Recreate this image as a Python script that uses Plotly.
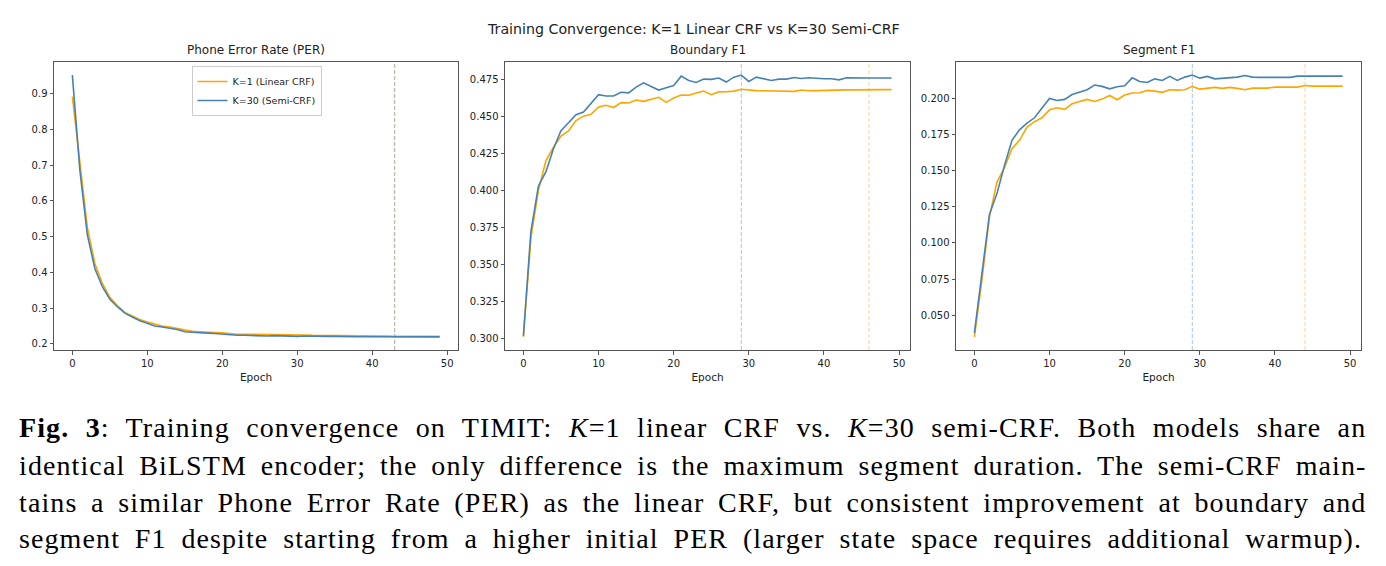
import plotly.graph_objects as go

W, H = 1386, 566

epochs = list(range(50))

per_k1 = [0.892, 0.705, 0.525, 0.425, 0.369, 0.330, 0.307, 0.288, 0.278, 0.268,
          0.261, 0.255, 0.250, 0.247, 0.243, 0.237, 0.235, 0.234, 0.234, 0.232,
          0.231, 0.228, 0.227, 0.227, 0.227, 0.226, 0.225, 0.226, 0.225, 0.225,
          0.225, 0.225, 0.224, 0.224, 0.223, 0.223, 0.223, 0.223, 0.223, 0.223,
          0.222, 0.222, 0.222, 0.221, 0.221, 0.221, 0.221, 0.221, 0.221, 0.221]
per_k30 = [0.952, 0.686, 0.505, 0.411, 0.360, 0.325, 0.304, 0.286, 0.275, 0.265,
           0.258, 0.250, 0.247, 0.244, 0.240, 0.234, 0.232, 0.231, 0.230, 0.229,
           0.227, 0.224, 0.224, 0.224, 0.223, 0.223, 0.222, 0.223, 0.222, 0.222,
           0.221, 0.222, 0.221, 0.221, 0.221, 0.221, 0.220, 0.221, 0.220, 0.220,
           0.220, 0.220, 0.220, 0.2195, 0.220, 0.2195, 0.2195, 0.2195, 0.2195, 0.2195]

bf1_k1 = [0.301, 0.368, 0.400, 0.420, 0.429, 0.4365, 0.440, 0.447, 0.450, 0.4513,
          0.4562, 0.4573, 0.4558, 0.4591, 0.4589, 0.4609, 0.4600, 0.4612, 0.4627, 0.4593,
          0.4622, 0.4642, 0.4641, 0.4656, 0.4669, 0.4645, 0.4664, 0.4665, 0.4669, 0.4681,
          0.4674, 0.4672, 0.4671, 0.4670, 0.4671, 0.4672, 0.4667, 0.4676, 0.4671, 0.4672,
          0.4674, 0.4673, 0.4676, 0.4677, 0.4677, 0.4678, 0.4682, 0.4681, 0.4679, 0.4679]
bf1_k30 = [0.3018, 0.3723, 0.4029, 0.4125, 0.4280, 0.4401, 0.4455, 0.4510, 0.4528, 0.4589,
           0.4645, 0.4636, 0.4636, 0.4661, 0.4657, 0.4696, 0.4725, 0.4700, 0.4676, 0.4691,
           0.4707, 0.4770, 0.4741, 0.4727, 0.4750, 0.4748, 0.4757, 0.4730, 0.4763, 0.4777,
           0.4734, 0.4763, 0.4752, 0.4741, 0.4750, 0.4750, 0.4761, 0.4754, 0.4759, 0.4754,
           0.4752, 0.4752, 0.4745, 0.4759, 0.4757, 0.4757, 0.4757, 0.4757, 0.4757, 0.4757]

sf1_k1 = [0.0350, 0.0742, 0.1179, 0.1420, 0.1519, 0.1650, 0.1708, 0.1800, 0.1837, 0.1864,
          0.1919, 0.1933, 0.1922, 0.1961, 0.1977, 0.1991, 0.1977, 0.1993, 0.2018, 0.1989,
          0.2021, 0.2035, 0.2037, 0.2053, 0.2048, 0.2040, 0.2058, 0.2055, 0.2058, 0.2081,
          0.2062, 0.2067, 0.2074, 0.2067, 0.2074, 0.2067, 0.2058, 0.2069, 0.2067, 0.2069,
          0.2076, 0.2074, 0.2076, 0.2076, 0.2087, 0.2083, 0.2081, 0.2083, 0.2083, 0.2083]
sf1_k30 = [0.0378, 0.0788, 0.1197, 0.1340, 0.1535, 0.1708, 0.1781, 0.1827, 0.1864, 0.1931,
           0.1998, 0.1984, 0.1991, 0.2025, 0.2041, 0.2058, 0.2090, 0.2081, 0.2064, 0.2078,
           0.2085, 0.2140, 0.2115, 0.2108, 0.2133, 0.2122, 0.2150, 0.2122, 0.2145, 0.2159,
           0.2138, 0.2150, 0.2133, 0.2136, 0.2140, 0.2145, 0.2156, 0.2145, 0.2143, 0.2143,
           0.2140, 0.2140, 0.2143, 0.2152, 0.2152, 0.2152, 0.2154, 0.2154, 0.2152, 0.2152]

panel_titles = ["Phone Error Rate (PER)", "Boundary F1", "Segment F1"]
best_epoch_k1 = [43, 46, 44]
best_epoch_k30 = [43, 29, 29]
series_names = ["K=1 (Linear CRF)", "K=30 (Semi-CRF)"]
suptitle = "Training Convergence: K=1 Linear CRF vs K=30 Semi-CRF"
x_ticks = [0, 10, 20, 30, 40, 50]
y_ticks = [[0.2, 0.3, 0.4, 0.5, 0.6, 0.7, 0.8, 0.9],
           [0.300, 0.325, 0.350, 0.375, 0.400, 0.425, 0.450, 0.475],
           [0.050, 0.075, 0.100, 0.125, 0.150, 0.175, 0.200]]
y_fmt = [".1f", ".3f", ".3f"]

caption_lines = [
    "<b>Fig. 3</b>: Training convergence on TIMIT: <i>K</i>=1 linear CRF vs. <i>K</i>=30 semi-CRF. Both models share an",
    "identical BiLSTM encoder; the only difference is the maximum segment duration. The semi-CRF main-",
    "tains a similar Phone Error Rate (PER) as the linear CRF, but consistent improvement at boundary and",
    "segment F1 despite starting from a higher initial PER (larger state space requires additional warmup).",
]
# typographic justification (px) for each caption line
cap_letter_spacing = 1.1
cap_word_spacing = [8.3, 5.8, 5.6, 6.7]
cap_y = [427, 465, 502, 538]

ORANGE = "#FFA500"
BLUE = "#4682B4"
FRAME = "#555555"
FONT = "DejaVu Sans"

# layout (pixel boxes of the three axes)
x_boxes = [(54, 458), (505, 910), (956, 1361)]
y_box = (62, 350)

fig = go.Figure()
data = [(per_k1, per_k30), (bf1_k1, bf1_k30), (sf1_k1, sf1_k30)]

shapes = []
annotations = []
for i, (k1, k30) in enumerate(data):
    sfx = "" if i == 0 else str(i + 1)
    xa, ya = "x" + sfx, "y" + sfx
    fig.add_trace(go.Scatter(x=epochs, y=k1, mode="lines", name=series_names[0],
                             line=dict(color=ORANGE, width=1.6), xaxis=xa, yaxis=ya,
                             showlegend=(i == 0)))
    fig.add_trace(go.Scatter(x=epochs, y=k30, mode="lines", name=series_names[1],
                             line=dict(color=BLUE, width=1.6), xaxis=xa, yaxis=ya,
                             showlegend=(i == 0)))
    lo = min(min(k1), min(k30)); hi = max(max(k1), max(k30))
    pad = (hi - lo) * 0.05
    x0, x1 = x_boxes[i]
    axis_common = dict(showline=True, linecolor=FRAME, linewidth=1, mirror=True,
                       ticks="outside", ticklen=3.5, tickwidth=0.8, tickcolor=FRAME,
                       showgrid=False, zeroline=False,
                       tickfont=dict(family=FONT, size=10, color="#222"))
    fig.layout["xaxis" + sfx] = dict(
        domain=[x0 / W, x1 / W], anchor=ya, range=[-2.45, 51.45],
        tickvals=x_ticks, title=dict(text="Epoch", font=dict(family=FONT, size=10.5, color="#222"), standoff=6),
        **axis_common)
    fig.layout["yaxis" + sfx] = dict(
        domain=[1 - y_box[1] / H, 1 - y_box[0] / H], anchor=xa, range=[lo - pad, hi + pad],
        tickvals=y_ticks[i], tickformat=y_fmt[i], **axis_common)
    for ep, col in ((best_epoch_k1[i], ORANGE), (best_epoch_k30[i], BLUE)):
        shapes.append(dict(type="line", xref=xa, yref=ya + " domain", x0=ep, x1=ep, y0=0, y1=1,
                           line=dict(color=col, width=1, dash="4px,2px"), opacity=0.45, layer="below"))
    annotations.append(dict(text=panel_titles[i], x=(x0 + x1) / 2 / W, y=1 - 50 / H,
                            xref="paper", yref="paper", showarrow=False, xanchor="center", yanchor="middle",
                            font=dict(family=FONT, size=12, color="#222")))

annotations.append(dict(text=suptitle, x=693 / W, y=1 - 29 / H, xref="paper", yref="paper",
                        showarrow=False, xanchor="center", yanchor="middle",
                        font=dict(family=FONT, size=14.2, color="#222")))

for line, yy, ws in zip(caption_lines, cap_y, cap_word_spacing):
    styled = ('<span style="letter-spacing:%.2fpx;word-spacing:%.2fpx">' % (cap_letter_spacing, ws)
              + line + "</span>")
    annotations.append(dict(text=styled, x=17 / W, y=1 - yy / H, xref="paper", yref="paper",
                            showarrow=False, xanchor="left", yanchor="middle", align="left",
                            font=dict(family="Liberation Serif", size=28, color="#000")))

fig.update_layout(
    width=W, height=H, margin=dict(l=0, r=0, t=0, b=0),
    paper_bgcolor="white", plot_bgcolor="white",
    shapes=shapes, annotations=annotations,
    legend=dict(x=(195 + 318) / 2 / W, y=1 - 66 / H, xanchor="center", yanchor="top",
                bgcolor="rgba(255,255,255,0.8)", bordercolor="#cccccc", borderwidth=1,
                font=dict(family=FONT, size=9.5, color="#222"), itemwidth=30,
                tracegroupgap=0),
)

fig.write_html("out.html")
